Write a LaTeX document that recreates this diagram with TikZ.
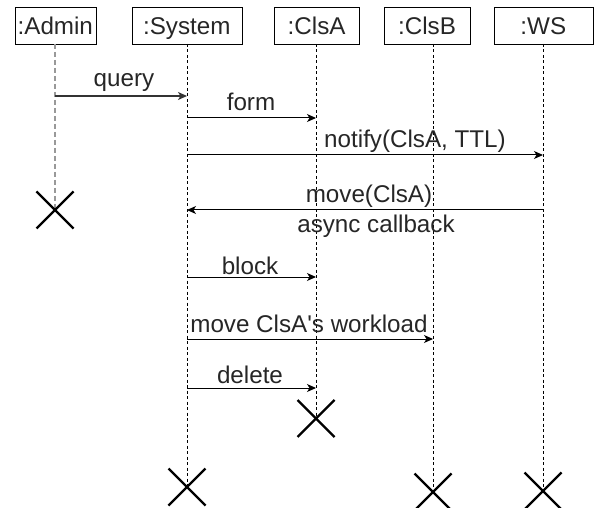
\documentclass[tikz,border=0pt]{standalone}
\usepackage{fontspec}
\setmainfont{Liberation Sans}
\newfontfamily\plainsans{Liberation Sans}
\usetikzlibrary{arrows.meta,calc}
\begin{document}
\begin{tikzpicture}[x=1pt,y=-1pt,
  font=\fontsize{24.2}{29}\selectfont,
  obj/.style={draw,line width=0.9pt,inner sep=0pt,anchor=north west},
  life/.style={line width=0.8pt,dash pattern=on 3pt off 2.5pt},
  adminlife/.style={line width=1.3pt,gray!80,dash pattern=on 5pt off 3pt},
  msg/.style={line width=1pt,-{Stealth[length=9pt,width=8pt,inset=2.5pt]}},
  lbl/.style={anchor=base,inner sep=0pt,text=black!85},
  kill/.style={line width=2.4pt}]
\useasboundingbox (0,0) rectangle (595,508);
% objects
\node[obj,minimum width=80.7pt,minimum height=36.7pt] (admin) at (15,7.3) {};
\node[lbl] at (55.3,34.8) {:Admin};
\node[obj,minimum width=109.7pt,minimum height=36.7pt] (sys) at (132,7.3) {};
\node[lbl] at (186.8,34.8) {:System};
\node[obj,minimum width=84.7pt,minimum height=36.7pt] (clsa) at (274.3,7.3) {};
\node[lbl] at (316.6,34.8) {:ClsA};
\node[obj,minimum width=86pt,minimum height=36.7pt] (clsb) at (384,7.3) {};
\node[lbl] at (427,34.8) {:ClsB};
\node[obj,minimum width=98.6pt,minimum height=36.7pt] (ws) at (494,7.3) {};
\node[lbl] at (543.3,34.8) {:WS};
% lifeline ends
\coordinate (adminEnd) at (55,210);
\coordinate (sysEnd) at (187,487);
\coordinate (clsaEnd) at (316,418.5);
\coordinate (clsbEnd) at (433,492);
\coordinate (wsEnd) at (543,491);
\draw[adminlife] (55,44) -- (adminEnd);
\draw[life] (187,44) -- (sysEnd);
\draw[life] (316,44) -- (clsaEnd);
\draw[life] (433,44) -- (clsbEnd);
\draw[life] (543,44) -- (wsEnd);
% message end points
\coordinate (q1) at (55,96);   \coordinate (q2) at (187,96);
\coordinate (f1) at (187,118); \coordinate (f2) at (316,118);
\coordinate (n1) at (187,155); \coordinate (n2) at (543,155);
\coordinate (m1) at (543,210); \coordinate (m2) at (187,210);
\coordinate (b1) at (187,277); \coordinate (b2) at (316,277);
\coordinate (w1) at (187,339); \coordinate (w2) at (433,339);
\coordinate (d1) at (187,388); \coordinate (d2) at (316,388);
\draw[msg,line width=1.3pt,black!80] (q1) -- (q2);
\draw[msg] (f1) -- (f2);
\draw[msg] (n1) -- (n2);
\draw[msg] (m1) -- (m2);
\draw[msg] (b1) -- (b2);
\draw[msg] (w1) -- (w2);
\draw[msg] (d1) -- (d2);
% labels
\node[lbl] (lq) at (124,87) {query};
\node[lbl] (lf) at (251,111) {form};
\node[lbl] (ln) at (415,148) {notify(ClsA, TTL)};
\node[lbl] (lm) at (369,203) {move(ClsA)};
\node[lbl] (la) at (376,233) {async callback};
\node[lbl] (lb) at (250,274) {block};
\node[lbl] (lw) at (309,332) {\plainsans move ClsA's workload};
\node[lbl] (ld) at (250,383) {delete};
% destruction marks
\foreach \c in {adminEnd,sysEnd,clsaEnd,clsbEnd,wsEnd}{
  \draw[kill] ($(\c)+(-18.5,-18.5)$) -- ($(\c)+(18.5,18.5)$);
  \draw[kill] ($(\c)+(-18.5,18.5)$) -- ($(\c)+(18.5,-18.5)$);
}
\end{tikzpicture}
\end{document}
